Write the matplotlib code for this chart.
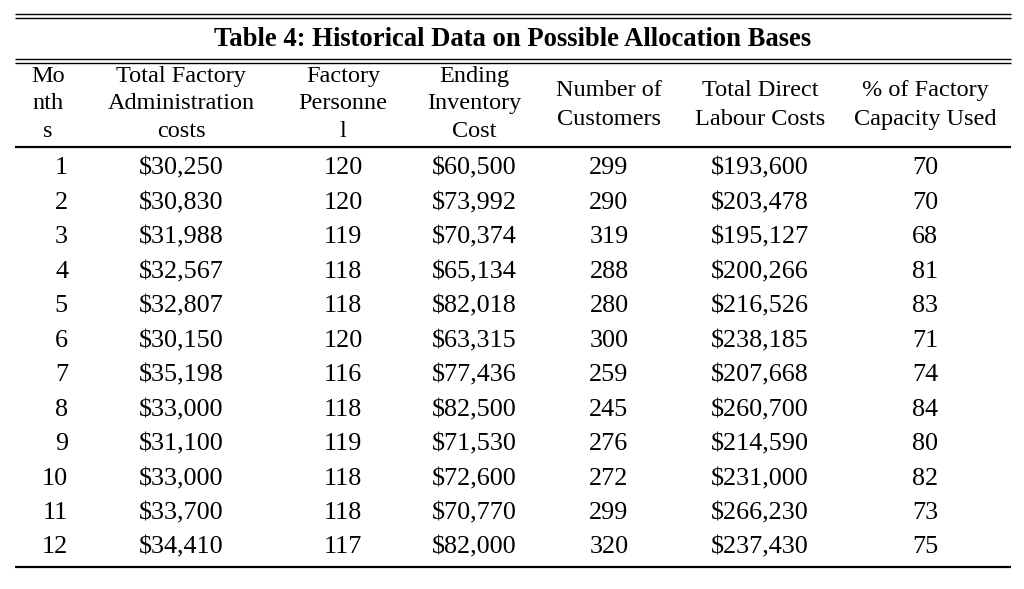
import matplotlib
matplotlib.use("Agg")
import matplotlib.pyplot as plt

title = "Table 4: Historical Data on Possible Allocation Bases"
headers = [["Mo", "nth", "s"],
           ["Total Factory", "Administration", "costs"],
           ["Factory", "Personne", "l"],
           ["Ending", "Inventory", "Cost"],
           ["Number of", "Customers"],
           ["Total Direct", "Labour Costs"],
           ["% of Factory", "Capacity Used"]]

months = [1, 2, 3, 4, 5, 6, 7, 8, 9, 10, 11, 12]
admin_costs = [30250, 30830, 31988, 32567, 32807, 30150, 35198, 33000, 31100, 33000, 33700, 34410]
personnel = [120, 120, 119, 118, 118, 120, 116, 118, 119, 118, 118, 117]
inventory_cost = [60500, 73992, 70374, 65134, 82018, 63315, 77436, 82500, 71530, 72600, 70770, 82000]
customers = [299, 290, 319, 288, 280, 300, 259, 245, 276, 272, 299, 320]
labour_costs = [193600, 203478, 195127, 200266, 216526, 238185, 207668, 260700, 214590, 231000, 266230, 237430]
capacity_used = [70, 70, 68, 81, 83, 71, 74, 84, 80, 82, 73, 75]

W, H = 1024, 589
fig = plt.figure(figsize=(W / 100, H / 100), dpi=100)
ax = fig.add_axes([0, 0, 1, 1])
ax.set_xlim(0, W)
ax.set_ylim(H, 0)
ax.axis("off")

plt.rcParams["font.family"] = ["Liberation Serif", "DejaVu Serif"]
col_x = [48, 181, 343, 474, 609, 760, 925]
x0, x1 = 15, 1011
px = 0.72  # one pixel in points

# rules
for y, lw in [(14, 1.4), (18, 1.4), (59, 1.4), (63, 1.4), (147, 2.2), (567, 2.2)]:
    ax.plot([x0, x1], [y, y], color="black", lw=lw * px, solid_capstyle="butt")

ax.text(513, 46, title, ha="center", va="baseline", fontsize=19.2, fontweight="bold")

# header (baselines)
for cx, lines in zip(col_x, headers):
    ys = [82, 109, 137] if len(lines) == 3 else [96, 125]
    for ln, y in zip(lines, ys):
        ax.text(cx, y, ln, ha="center", va="baseline", fontsize=17.5)

# rows
fs = 18.8
for i in range(len(months)):
    y = round(174.5 + i * 34.45)
    ax.text(68, y, str(months[i]), ha="right", va="baseline", fontsize=fs)
    ax.text(col_x[1], y, "${:,}".format(admin_costs[i]), ha="center", va="baseline", fontsize=fs)
    ax.text(col_x[2], y, str(personnel[i]), ha="center", va="baseline", fontsize=fs)
    ax.text(col_x[3], y, "${:,}".format(inventory_cost[i]), ha="center", va="baseline", fontsize=fs)
    ax.text(col_x[4], y, str(customers[i]), ha="center", va="baseline", fontsize=fs)
    ax.text(col_x[5], y, "${:,}".format(labour_costs[i]), ha="center", va="baseline", fontsize=fs)
    ax.text(col_x[6], y, str(capacity_used[i]), ha="center", va="baseline", fontsize=fs)

fig.savefig("out.png", dpi=100)
